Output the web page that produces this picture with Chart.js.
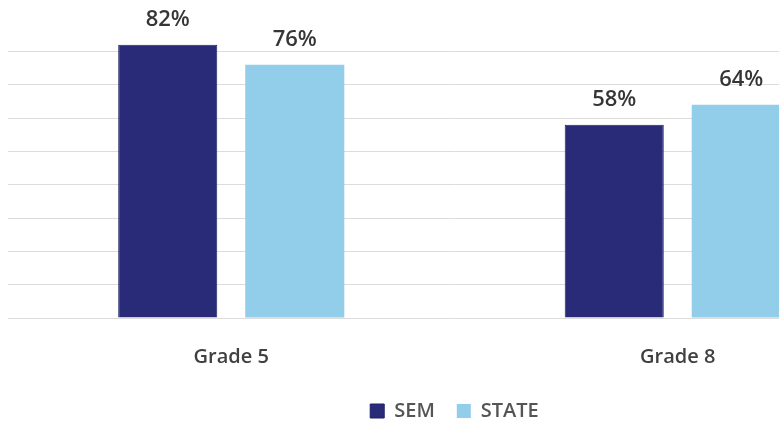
<!DOCTYPE html>
<html>
<head>
<meta charset="utf-8">
<script src="https://cdn.jsdelivr.net/npm/chart.js@4.4.1/dist/chart.umd.min.js"></script>
<style>
  html, body { margin: 0; padding: 0; background: #fff; }
  #wrap { width: 779px; height: 426px; overflow: hidden; position: relative; }
</style>
</head>
<body>
<div id="wrap">
  <canvas id="myChart" width="909" height="426"></canvas>
</div>
<script>
const grades = ['Grade 5', 'Grade 8'];
const semValues = [82, 58];
const stateValues = [76, 64];
const seriesNames = ['SEM', 'STATE'];

// draws "82%" etc above each bar
const barLabels = {
    id: 'barLabels',
    afterDatasetsDraw(chart) {
        const ctx = chart.ctx;
        ctx.save();
        ctx.font = '600 22px "Open Sans", sans-serif';
        ctx.fillStyle = '#363636';
        ctx.textAlign = 'center';
        ctx.textBaseline = 'alphabetic';
        chart.data.datasets.forEach((ds, i) => {
            chart.getDatasetMeta(i).data.forEach((bar, j) => {
                ctx.fillText(ds.data[j] + '%', bar.x, bar.y - 19);
            });
        });
        ctx.restore();
    }
};

const ctx = document.getElementById('myChart').getContext('2d');
const myChart = new Chart(ctx, {
    type: 'bar',
    data: {
        labels: grades,
        datasets: [
            {
                label: seriesNames[0],
                data: semValues,
                backgroundColor: '#2a2b78',
                borderColor: '#1f2068',
                borderWidth: 1,
                categoryPercentage: 0.569,
                barPercentage: 0.78
            },
            {
                label: seriesNames[1],
                data: stateValues,
                backgroundColor: '#92cdea',
                categoryPercentage: 0.569,
                barPercentage: 0.78
            }
        ]
    },
    options: {
        responsive: false,
        animation: false,
        layout: {
            padding: { left: 8, right: 8, top: 18, bottom: -5 }
        },
        scales: {
            x: {
                grid: { display: false },
                border: { display: false },
                ticks: {
                    color: '#404040',
                    padding: 19,
                    font: { family: '"Open Sans", sans-serif', size: 20, weight: '600' }
                },
                afterFit: function(scale) {
                    scale.height -= 9;
                }
            },
            y: {
                min: 0,
                max: 90,
                ticks: { display: false, stepSize: 10 },
                border: { display: false },
                grid: {
                    drawTicks: false,
                    color: function(c) {
                        return c.tick && c.tick.value === 90 ? 'rgba(0,0,0,0)' : '#dcdcdc';
                    }
                }
            }
        },
        plugins: {
            tooltip: { enabled: false },
            legend: {
                position: 'bottom',
                labels: {
                    boxWidth: 14,
                    boxHeight: 14,
                    padding: 22,
                    color: '#555555',
                    font: { family: '"Open Sans", sans-serif', size: 20, weight: '600' }
                }
            }
        }
    },
    plugins: [barLabels]
});
</script>
</body>
</html>
